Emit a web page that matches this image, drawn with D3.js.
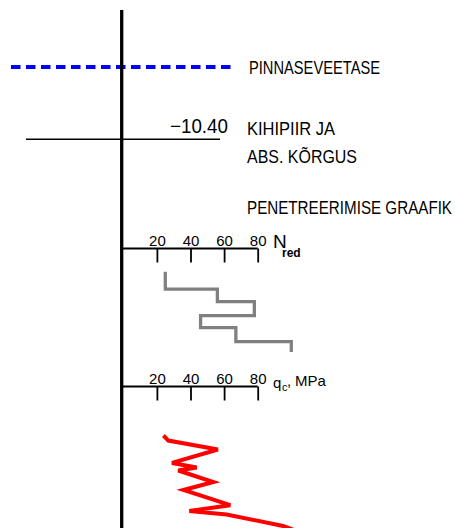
<!DOCTYPE html>
<html><head><meta charset="utf-8">
<script src="https://cdn.jsdelivr.net/npm/d3@7"></script>
<style>
body{margin:0;background:#fff}
svg{display:block}
text{font-family:"Liberation Sans",Arial,sans-serif;fill:#000}
</style>
</head><body><script>
// ---- data ----
const tickValues = [20, 40, 60, 80];
const legendTexts = ["PINNASEVEETASE", "KIHIPIIR JA", "ABS. KÕRGUS", "PENETREERIMISE GRAAFIK"];
const levelLabel = "−10.40";
// N_red step profile (depth in m from profile top, N value per layer)
const nDepthTop = [0, 1.24, 2.14, 3.14, 4.0, 5.0];
const nDepthEnd = 5.74;
const nValues = [25, 56, 78, 46, 67, 100];
// q_c profile
const qcDepth = [0, 0.36, 1.0, 1.96, 2.29, 2.5, 3.32, 3.89, 4.98, 5.39, 5.64, 6.46, 6.9];
const qcValues = [23.9, 26.8, 56.3, 29.0, 43.7, 32.7, 53.6, 35.8, 63.7, 39.3, 61.5, 95.1, 105];

// ---- drawing ----
const W = 455, H = 528;
const svg = d3.select("body").append("svg").attr("width", W).attr("height", H);

const x = d3.scaleLinear().domain([0, 80]).range([123.3, 257.7]);
const nY = d3.scaleLinear().domain([0, 1]).range([271.7, 285.7]);
const qY = d3.scaleLinear().domain([0, 1]).range([435.5, 449.5]);

// water level dashed line
svg.append("line").attr("x1", 11).attr("x2", 235).attr("y1", 67).attr("y2", 67)
  .attr("stroke", "#0000ff").attr("stroke-width", 4).attr("stroke-dasharray", "9.5,5.5");

// layer boundary line
svg.append("line").attr("x1", 26).attr("x2", 220).attr("y1", 139.3).attr("y2", 139.3)
  .attr("stroke", "#000").attr("stroke-width", 1.4);

// texts
function txt(s, xx, yy, size, len) {
  const t = svg.append("text").attr("x", xx).attr("y", yy).attr("font-size", size).text(s);
  if (len) t.attr("textLength", len).attr("lengthAdjust", "spacingAndGlyphs");
  return t;
}
txt(legendTexts[0], 249, 73.5, 19, 131);
txt(levelLabel, 170, 133, 20, 58);
txt(legendTexts[1], 247, 135, 19, 88);
txt(legendTexts[2], 247, 163, 19, 110);
txt(legendTexts[3], 247, 213.5, 19, 205);

// axes
function drawAxis(y) {
  const g = svg.append("g").attr("transform", `translate(0,${y})`)
    .call(d3.axisTop(x).tickValues(tickValues).tickSize(-14).tickSizeOuter(0).tickPadding(3));
  g.select(".domain").remove();
  g.append("line").attr("x1", 121).attr("x2", x(80)).attr("y1", 0).attr("y2", 0)
    .attr("stroke", "#000").attr("stroke-width", 2);
  g.selectAll(".tick line").attr("stroke", "#000").attr("stroke-width", 1.8);
  g.selectAll(".tick text").attr("font-size", 15).attr("font-family", "Liberation Sans, Arial, sans-serif")
    .attr("fill", "#000");
  return g;
}
drawAxis(248.5);
drawAxis(386.5);

// N_red label
const nt = svg.append("text").attr("x", 273).attr("y", 248.3).attr("font-size", 19);
nt.append("tspan").text("N");
nt.append("tspan").attr("x", 282).attr("y", 257).attr("font-size", 12).attr("font-weight", "bold").text("red");

// q_c label
const qt = svg.append("text").attr("x", 273).attr("y", 388).attr("font-size", 15);
qt.append("tspan").text("q");
qt.append("tspan").attr("x", 282).attr("y", 391).attr("font-size", 11).text("c");
qt.append("tspan").attr("x", 287).attr("y", 386).text(",");
qt.append("tspan").attr("x", 295).attr("y", 385.5).text("MPa");

// N step profile
const nPts = [];
nValues.forEach((v, i) => {
  const bottom = i + 1 < nDepthTop.length ? nDepthTop[i + 1] : nDepthEnd;
  nPts.push([x(v), nY(nDepthTop[i])]);
  nPts.push([x(v), nY(bottom)]);
});
svg.append("path").attr("d", d3.line()(nPts)).attr("fill", "none")
  .attr("stroke", "#808080").attr("stroke-width", 3.3);

// q_c profile
const qPts = qcValues.map((v, i) => [x(v), qY(qcDepth[i])]);
svg.append("path").attr("d", d3.line()(qPts)).attr("fill", "none")
  .attr("stroke", "#ff0000").attr("stroke-width", 4).attr("stroke-linejoin", "miter");

// main vertical line
svg.append("line").attr("x1", 121.7).attr("x2", 121.7).attr("y1", 10).attr("y2", H)
  .attr("stroke", "#000").attr("stroke-width", 3.3);
</script></body></html>
